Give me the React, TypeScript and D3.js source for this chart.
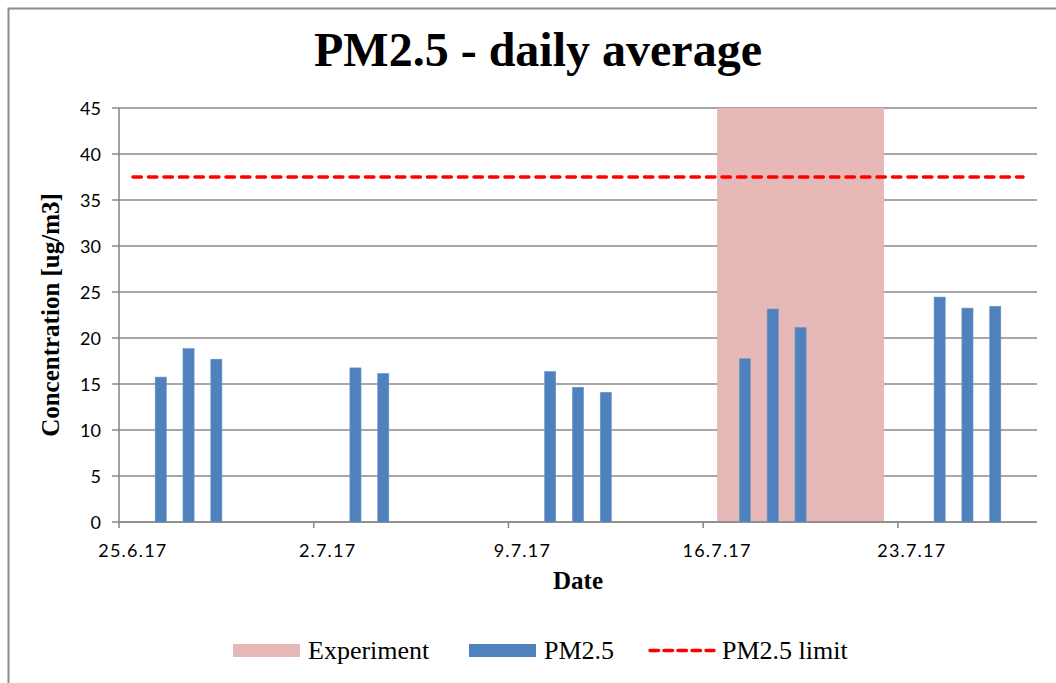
import React from "react";
import * as d3 from "d3";

const pmDates = ["2017-06-26","2017-06-27","2017-06-28","2017-07-03","2017-07-04","2017-07-10","2017-07-11","2017-07-12","2017-07-17","2017-07-18","2017-07-19","2017-07-24","2017-07-25","2017-07-26"];
const pmValues = [15.75, 18.85, 17.7, 16.75, 16.15, 16.35, 14.65, 14.1, 17.75, 23.15, 21.15, 24.45, 23.25, 23.45];
const experimentDates = ["2017-07-16","2017-07-22"];
const experimentValue = 45;
const limitDates = ["2017-06-25","2017-07-27"];
const limitValue = 37.5;
const xTickDates = ["2017-06-25","2017-07-02","2017-07-09","2017-07-16","2017-07-23"];
const xDomain = ["2017-06-25","2017-07-28"];
const yTicks = [0,5,10,15,20,25,30,35,40,45];
const legendLabels = ["Experiment","PM2.5","PM2.5 limit"];

const parse = (s: string) => new Date(s + "T00:00:00Z");
const fmt = (d: Date) => `${d.getUTCDate()}.${d.getUTCMonth() + 1}.${String(d.getUTCFullYear()).slice(2)}`;

export default function App() {
  const W = 1056, H = 683;
  const left = 119, right = 1037, top = 108, bottom = 522;
  const x = d3.scaleUtc().domain(xDomain.map(parse)).range([left, right]);
  const y = d3.scaleLinear().domain([0, 45]).range([bottom, top]);
  const dayW = x(parse("2017-06-26")) - x(parse("2017-06-25"));
  const half = dayW / 2;
  const barW = dayW * 0.4;
  const grid = "#8a8a8a";
  const sans = "Lato, 'Open Sans', sans-serif";
  const serif = "'Liberation Serif', 'Times New Roman', serif";

  const expX0 = x(parse(experimentDates[0])) + half;
  const expX1 = x(parse(experimentDates[1])) + half;
  const limX0 = x(parse(limitDates[0])) + half;
  const limX1 = x(parse(limitDates[1])) + half;

  return (
    <svg width={W} height={H} style={{ position: "absolute", left: 0, top: 0, background: "#fff" }}>
      <rect x={0} y={0} width={W} height={H} fill="#fff" />
      <path d={`M8.5,${H} V8.5 H${W}`} fill="none" stroke="#8c8c8c" strokeWidth={2} />
      <text x={538} y={66} textAnchor="middle" fontFamily={serif} fontWeight="bold" fontSize={48}>PM2.5 - daily average</text>

      {/* gridlines */}
      {yTicks.map(t => (
        <g key={t}>
          <line x1={left - 7} x2={right} y1={y(t)} y2={y(t)} stroke={grid} strokeWidth={1.6} />
          <text x={101} y={y(t) + 6.5} textAnchor="end" fontFamily={sans} fontSize={18}>{t}</text>
        </g>
      ))}
      {/* experiment shading */}
      <rect x={expX0} y={y(experimentValue)} width={expX1 - expX0} height={y(0) - y(experimentValue) - 1} fill="#E6B8B7" />

      {/* y axis */}
      <line x1={left} x2={left} y1={top} y2={bottom} stroke={grid} strokeWidth={1.6} />
      {/* x axis */}
      <line x1={left} x2={right} y1={bottom} y2={bottom} stroke={grid} strokeWidth={1.6} />
      {xTickDates.map(s => {
        const d = parse(s);
        return (
          <g key={s}>
            <line x1={x(d)} x2={x(d)} y1={bottom} y2={bottom + 6} stroke={grid} strokeWidth={1.6} />
            <text x={x(d) + half} y={bottom + 35} textAnchor="middle" fontFamily={sans} fontSize={18} letterSpacing={1.2}>{fmt(d)}</text>
          </g>
        );
      })}

      {/* bars */}
      {pmDates.map((s, i) => {
        const cx = x(parse(s)) + half;
        return <rect key={s} x={cx - barW / 2} y={y(pmValues[i])} width={barW} height={y(0) - y(pmValues[i])} fill="#4F81BD" stroke="#6f97c8" strokeWidth={0.6} />;
      })}

      {/* limit line */}
      <line x1={limX0} x2={limX1} y1={y(limitValue)} y2={y(limitValue)} stroke="#FF0000" strokeWidth={3.4} strokeDasharray="8.5,7" strokeLinecap="round" />

      {/* axis titles */}
      <text transform={`translate(59,315) rotate(-90)`} textAnchor="middle" fontFamily={serif} fontWeight="bold" fontSize={25}>Concentration [ug/m3]</text>
      <text x={578} y={589} textAnchor="middle" fontFamily={serif} fontWeight="bold" fontSize={25}>Date</text>

      {/* legend */}
      <rect x={233} y={644} width={67} height={13} fill="#E6B8B7" />
      <text x={308} y={659} fontFamily={serif} fontSize={26}>{legendLabels[0]}</text>
      <rect x={469} y={644} width={67} height={13} fill="#4F81BD" />
      <text x={544} y={659} fontFamily={serif} fontSize={26}>{legendLabels[1]}</text>
      <line x1={650} x2={714} y1={650.5} y2={650.5} stroke="#FF0000" strokeWidth={3.4} strokeDasharray="8.5,5.5" strokeLinecap="round" />
      <text x={722} y={659} fontFamily={serif} fontSize={26}>{legendLabels[2]}</text>
    </svg>
  );
}
